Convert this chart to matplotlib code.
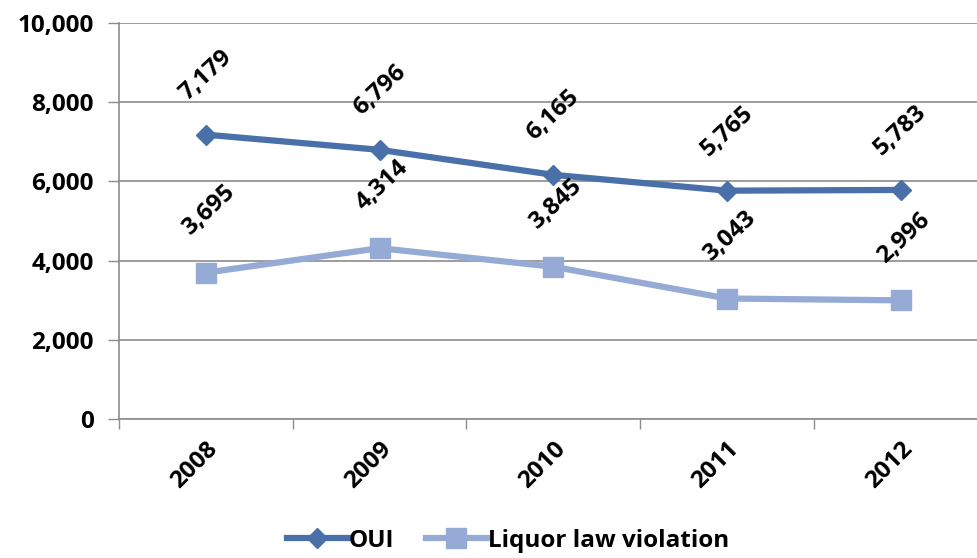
import numpy as np
import matplotlib.pyplot as plt
import matplotlib

matplotlib.rcParams['font.family'] = ['Open Sans', 'DejaVu Sans']
matplotlib.rcParams['font.weight'] = 'bold'

years = ['2008', '2009', '2010', '2011', '2012']
oui = [7179, 6796, 6165, 5765, 5783]
liquor = [3695, 4314, 3845, 3043, 2996]

c_oui = '#4A70AA'
c_liq = '#95AAD4'
c_grid = '#8C8C8C'

fig = plt.figure(figsize=(9.77, 5.58), dpi=100)
ax = fig.add_axes([0.1218, 0.249, 0.889, 0.710])

x = np.arange(len(years))
ax.plot(x, oui, color=c_oui, linewidth=4.5, marker='D', markersize=10, label='OUI')
ax.plot(x, liquor, color=c_liq, linewidth=4.5, marker='s', markersize=14, label='Liquor law violation')

for i in range(len(years)):
    ax.annotate(f'{oui[i]:,}', (x[i], oui[i]), xytext=(0, 43), textcoords='offset points',
                ha='center', va='center', rotation=43, fontsize=17.5, fontweight='bold')
    ax.annotate(f'{liquor[i]:,}', (x[i], liquor[i]), xytext=(2, 45), textcoords='offset points',
                ha='center', va='center', rotation=43, fontsize=17.5, fontweight='bold')

ax.set_xlim(-0.5, len(years) - 0.5)
ax.set_ylim(0, 10000)
ax.set_yticks(np.arange(0, 10001, 2000))
ax.set_yticklabels([f'{v:,}' for v in range(0, 10001, 2000)], fontsize=17.5, fontweight='bold')
ax.yaxis.grid(True, color=c_grid, linewidth=1.2)
ax.set_axisbelow(True)

ax.set_xticks(x)
ax.set_xticklabels(years, rotation=45, ha='right', va='top', rotation_mode='anchor',
                   fontsize=17.5, fontweight='bold')
ax.tick_params(axis='x', length=0, pad=13)
ax.set_xticks(np.arange(-0.5, len(years)), minor=True)
ax.tick_params(axis='x', which='minor', length=7, color=c_grid, width=1)
ax.tick_params(axis='y', length=8, color=c_grid, width=1, pad=10)

for s in ['top', 'right']:
    ax.spines[s].set_visible(False)
for s in ['left', 'bottom']:
    ax.spines[s].set_color(c_grid)
    ax.spines[s].set_linewidth(1.2)

fig.legend(loc='lower center', bbox_to_anchor=(0.52, -0.03), ncol=2, frameon=False,
           prop={'size': 17.5, 'weight': 'bold'}, handlelength=2.5, handletextpad=0.05,
           columnspacing=1.3)

fig.savefig('out.png', dpi=100)
